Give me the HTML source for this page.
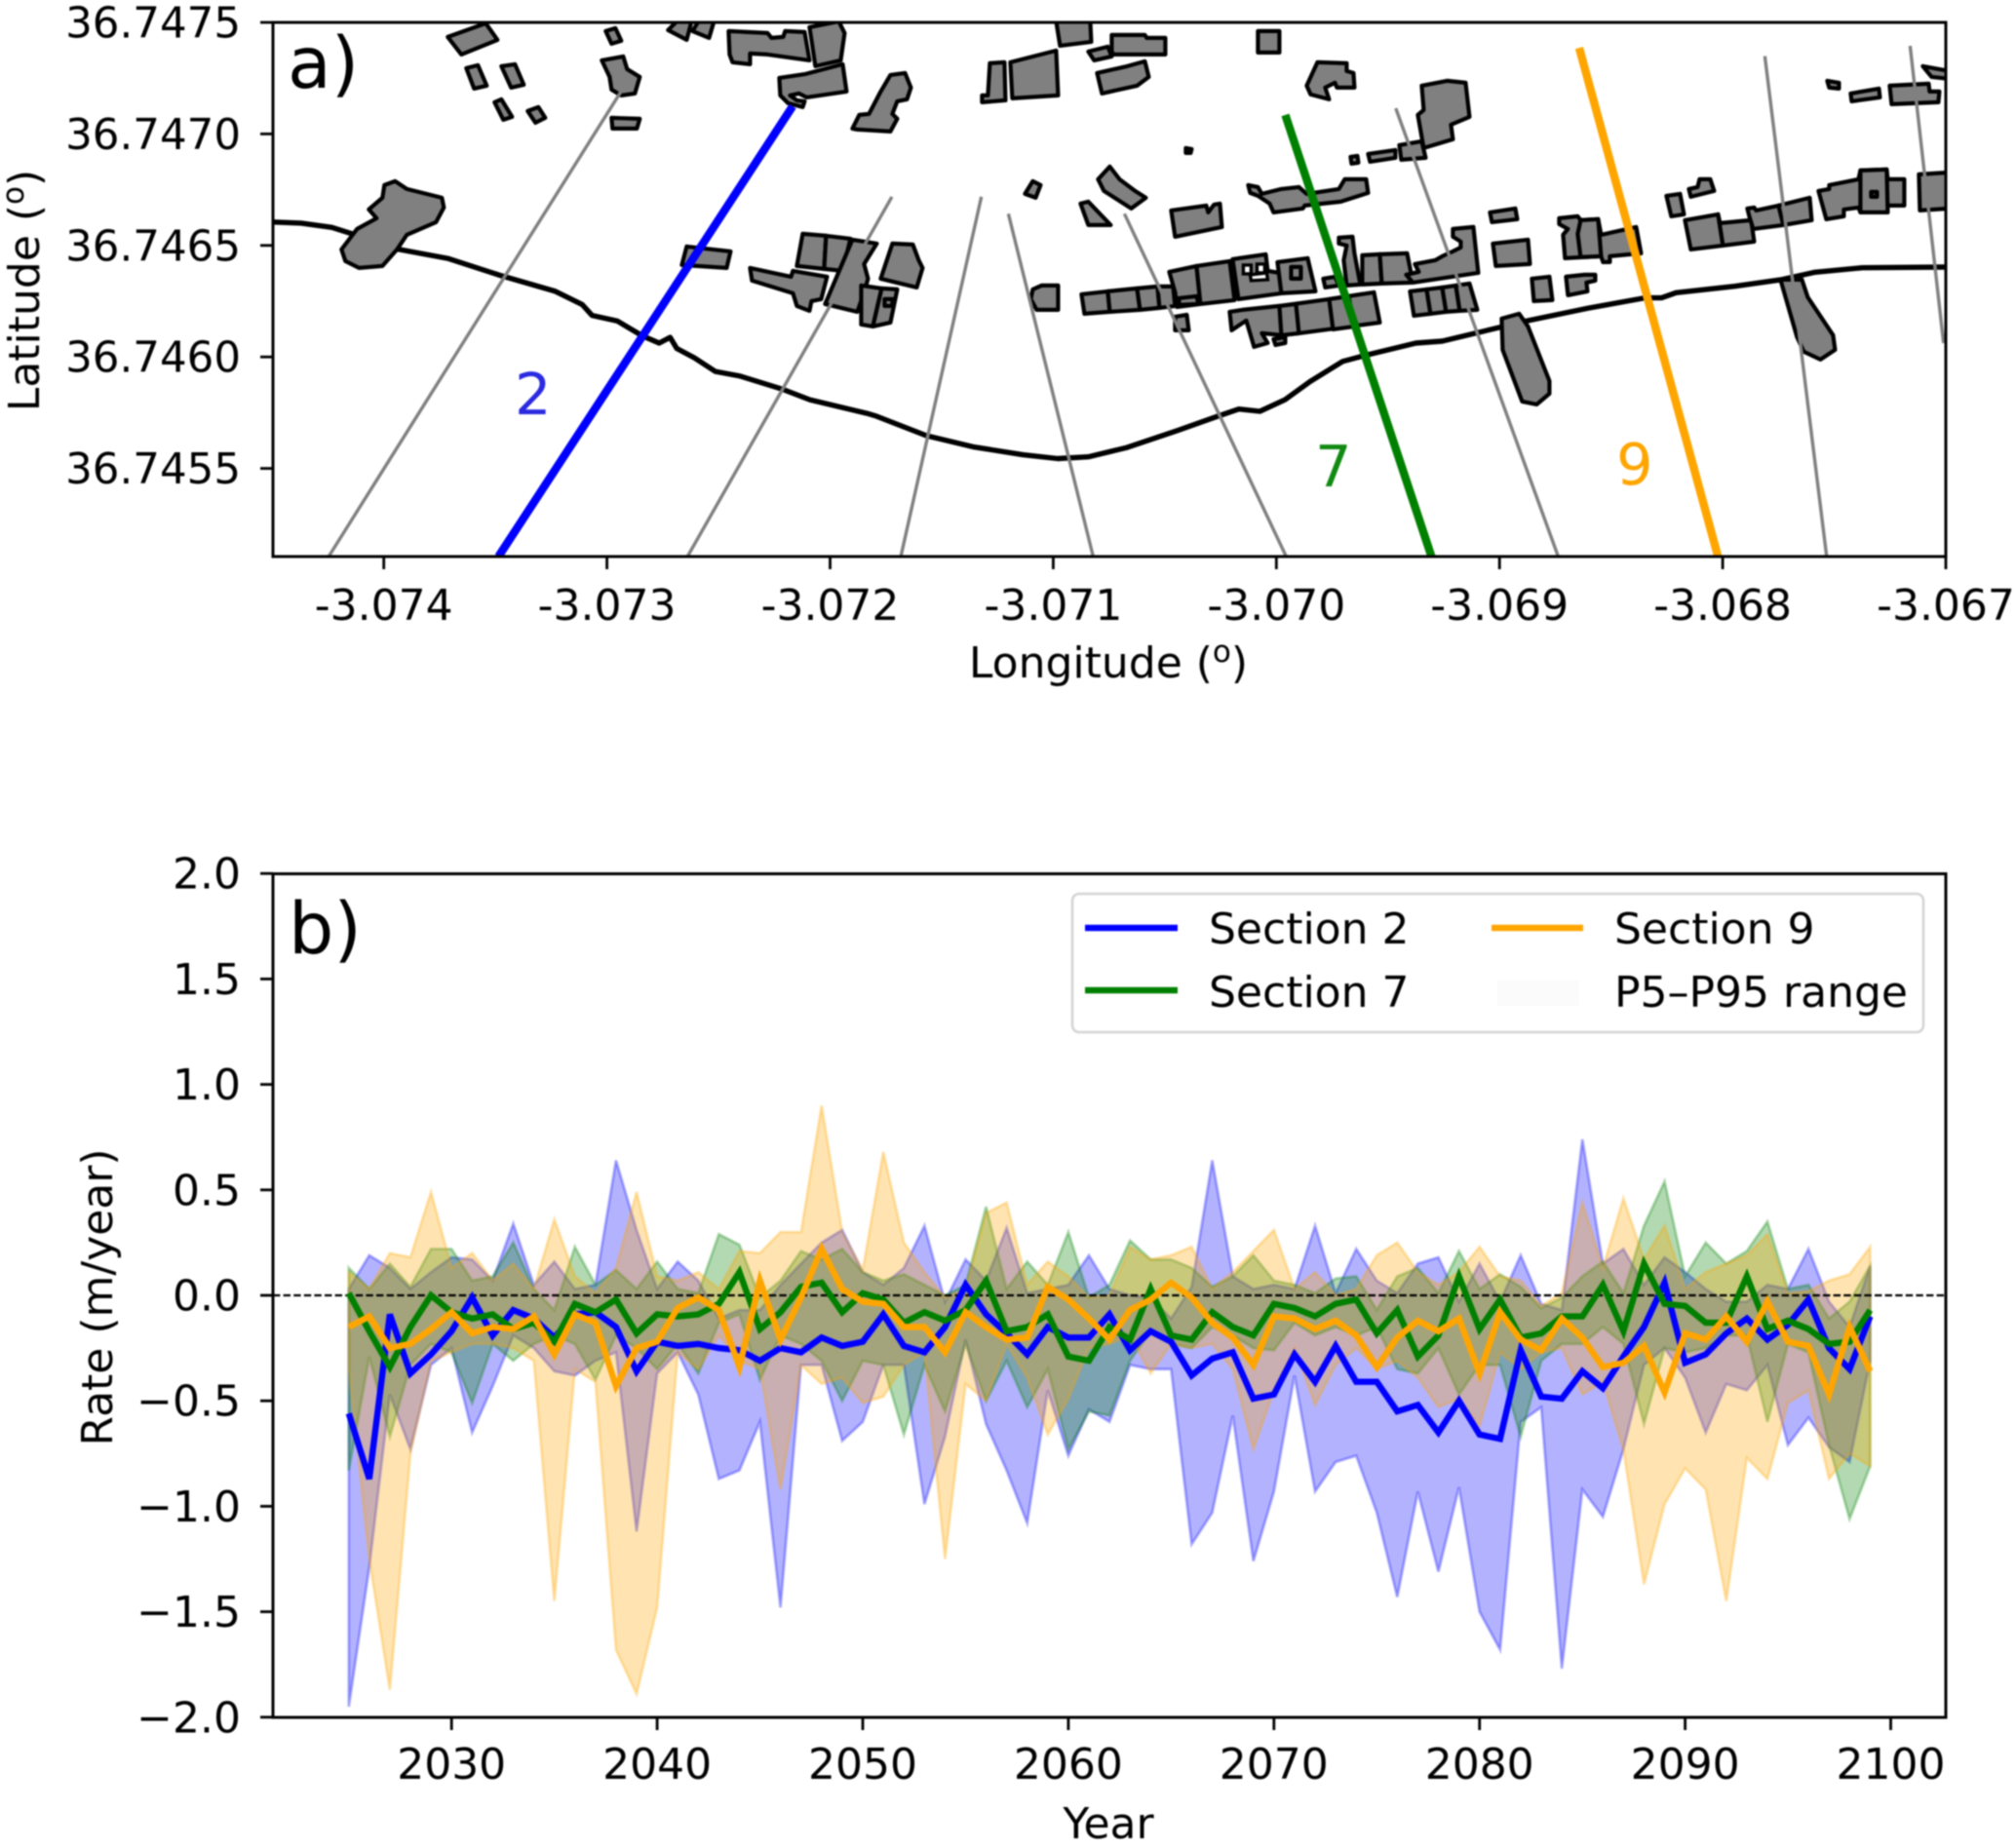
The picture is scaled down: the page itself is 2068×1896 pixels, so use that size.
<!DOCTYPE html>
<html lang="en">
<head>
<meta charset="utf-8">
<title>Shoreline sections and rates</title>
<style>
html,body{margin:0;padding:0;background:#fff;width:2068px;height:1896px;overflow:hidden}
svg{display:block;filter:blur(0.9px)}
text{font-family:"DejaVu Sans","Liberation Sans",sans-serif;fill:#000}
</style>
</head>
<body>
<svg id="fig" xmlns="http://www.w3.org/2000/svg" width="2068" height="1896" viewBox="0 0 2068 1896">
  <defs>
    <clipPath id="clipA"><rect x="280" y="23" width="1716" height="548"/></clipPath>
  </defs>
  <rect x="0" y="0" width="2068" height="1896" fill="#fff"/>

  <g id="panelA">
    <g id="mapMarks" clip-path="url(#clipA)"></g>
    <rect x="280" y="23" width="1716" height="548" fill="none" stroke="#000" stroke-width="3"/>
    <g id="axisA"></g>
    <text x="295" y="90" font-size="73">a)</text>
    <text x="528" y="425" font-size="59" style="fill:#2a2ae0">2</text>
    <text x="1349" y="499" font-size="59" style="fill:#128a12">7</text>
    <text x="1658" y="497" font-size="59" style="fill:#ffa500">9</text>
    <text x="1137" y="695" font-size="44" text-anchor="middle">Longitude (<tspan font-size="31" dy="-16">o</tspan><tspan dy="16">)</tspan></text>
    <text transform="translate(40,298) rotate(-90)" font-size="44" text-anchor="middle">Latitude (<tspan font-size="31" dy="-16">o</tspan><tspan dy="16">)</tspan></text>
  </g>

  <g id="panelB">
    <g id="bands"></g>
    <rect x="280" y="896.5" width="1716" height="865.5" fill="none" stroke="#000" stroke-width="3"/>
    <g id="axisB"></g>
    <text x="296" y="978" font-size="73">b)</text>
    <text x="1137" y="1886" font-size="44" text-anchor="middle">Year</text>
    <text transform="translate(115,1331) rotate(-90)" font-size="44" text-anchor="middle">Rate (m/year)</text>

    <g>
      <rect x="1100" y="917" width="873" height="142" rx="7" fill="#fff" fill-opacity="0.85" stroke="#d4d4d4" stroke-width="2.6"/>
      <line x1="1113" y1="952" x2="1208" y2="952" stroke="#0000ff" stroke-width="6.4"/>
      <text x="1240" y="968" font-size="44">Section 2</text>
      <line x1="1113" y1="1016" x2="1208" y2="1016" stroke="#008000" stroke-width="6.4"/>
      <text x="1240" y="1033" font-size="44">Section 7</text>
      <line x1="1530" y1="952" x2="1624" y2="952" stroke="#ffa500" stroke-width="6.4"/>
      <text x="1656" y="968" font-size="44">Section 9</text>
      <rect x="1536" y="1005" width="84" height="27" fill="#fbfbfb"/>
      <text x="1656" y="1033" font-size="44">P5–P95 range</text>
    </g>
  </g>
</svg>

<script>
/* ---------- panel a: axis values ---------- */
const lonTicks = [-3.074,-3.073,-3.072,-3.071,-3.070,-3.069,-3.068,-3.067];
const lonTickLabels = ["-3.074","-3.073","-3.072","-3.071","-3.070","-3.069","-3.068","-3.067"];
const latTicks = [36.7475,36.7470,36.7465,36.7460,36.7455];
const latTickLabels = ["36.7475","36.7470","36.7465","36.7460","36.7455"];

/* shoreline, degrees */
const coastLon = [-3.074500,-3.074371,-3.074233,-3.074129,-3.073932,-3.073714,-3.073473,-3.073231,-3.073111,-3.073067,-3.072953,-3.072842,-3.072766,-3.072717,-3.072687,-3.072608,-3.072514,-3.072403,-3.072219,-3.072091,-3.071835,-3.071791,-3.071568,-3.071360,-3.071136,-3.070980,-3.070843,-3.070669,-3.070446,-3.070255,-3.070168,-3.070074,-3.069961,-3.069849,-3.069703,-3.069598,-3.069375,-3.069257,-3.068881,-3.068602,-3.068348,-3.068274,-3.068209,-3.067946,-3.067734,-3.067586,-3.067374,-3.067003];
const coastLat = [36.746605,36.746600,36.746581,36.746548,36.746482,36.746442,36.746364,36.746294,36.746235,36.746186,36.746161,36.746095,36.746062,36.746088,36.746038,36.745996,36.745935,36.745914,36.745857,36.745808,36.745747,36.745734,36.745647,36.745597,36.745561,36.745544,36.745552,36.745594,36.745669,36.745737,36.745766,36.745756,36.745808,36.745890,36.745980,36.746008,36.746062,36.746071,36.746161,36.746219,36.746265,36.746265,36.746288,36.746317,36.746347,36.746380,36.746400,36.746403];

/* transects, degrees: start (offshore) and end (landward) */
const transectIds   = [1,2,3,4,5,6,7,8,9,10,11];
const transectLon0  = [-3.074247,-3.073486,-3.072639,-3.071683,-3.070821,-3.069956,-3.069305,-3.068737,-3.068021,-3.067534,-3.06701];
const transectLat0  = [36.745105,36.745105,36.745105,36.745105,36.745105,36.745105,36.745105,36.745105,36.745105,36.745105,36.746062];
const transectLon1  = [-3.072937,-3.072168,-3.071723,-3.071322,-3.071201,-3.070681,-3.06996,-3.069465,-3.068643,-3.067811,-3.06716];
const transectLat1  = [36.74719,36.747124,36.746718,36.746718,36.746642,36.746642,36.747085,36.747115,36.747386,36.747349,36.747395];
const transectColor = {2:"#0000ff",7:"#008000",9:"#ffa500"};

/* building footprints on the local map grid (east, south cells) */
const gridLon0 = -3.075723, gridLat0 = 36.747601, gridLonDeg = 0.000004369, gridLatDeg = 0.000004371;
const buildings = [
[460,38,499,24,511,41,474,56],[479,70,491,67,500,88,487,91],[515,68,529,66,538,87,525,90],
[508,105,515,102,526,120,517,123],[542,114,553,110,560,121,550,126],[622,32,632,29,638,42,628,45],
[618,62,640,58,644,71,657,79,652,96,638,98,628,92,626,79],[628,121,657,122,654,132,629,132],
[686,31,695,22,710,22,705,41],[711,32,717,22,733,22,728,39],
[748,32,788,34,792,39,804,38,806,32,826,33,831,62,788,56,770,55,770,66,752,64,749,56],
[831,28,861,22,867,34,863,62,837,68],
[800,80,827,76,865,66,869,94,828,100,820,96,811,98,818,103,826,104,824,110,809,106,801,98],
[351,256,367,235,387,224,379,215,393,203,395,190,406,186,418,194,454,203,456,213,448,228,418,241,408,256,393,273,369,275,355,268],
[705,253,750,258,746,275,700,272],
[770,275,812,284,814,278,849,284,843,307,833,309,831,319,818,314,814,301,772,288],
[824,240,848,242,846,276,818,273],[848,242,873,245,865,278,846,276],
[847,312,875,246,900,250,887,271,891,286,887,300,880,320],
[916,250,937,251,943,267,947,275,941,295,904,286],
[884,293,905,296,896,335,884,333],[905,296,921,297,914,331,896,335],[908,307,916,307,916,314,908,314],
[1084,22,1119,22,1120,43,1088,47],[1141,36,1175,36,1177,39,1196,39,1196,56,1143,56,1141,53],
[1117,53,1137,48,1141,58,1123,62],[1126,75,1157,68,1175,63,1179,79,1167,88,1131,96],
[1291,32,1313,32,1313,54,1291,54],[1016,65,1031,64,1032,103,1008,105,1008,98,1014,98],
[1037,64,1084,52,1086,98,1039,101],
[914,77,929,75,935,90,931,102,921,104,916,117,921,122,914,135,880,133,875,132,882,118,892,117,904,94],
[1052,199,1060,186,1068,190,1063,203],[1127,184,1139,171,1149,184,1165,196,1176,203,1161,214,1133,196],
[1109,209,1117,207,1140,231,1117,231],[1202,216,1238,211,1240,218,1246,210,1252,209,1254,233,1206,243],
[1217,152,1223,153,1222,157,1217,157],[1386,161,1393,160,1394,167,1387,168],
[1404,158,1432,154,1432,162,1406,166],[1436,149,1459,145,1463,162,1438,164],
[1459,88,1485,83,1504,85,1508,120,1489,128,1491,143,1461,152,1455,118,1461,113],
[1341,88,1352,64,1382,65,1382,73,1389,75,1390,90,1372,90,1370,85,1360,90,1364,102,1345,97],
[1281,190,1291,192,1295,199,1315,194,1333,192,1341,199,1374,194,1380,184,1402,184,1404,198,1376,207,1339,211,1337,214,1307,218,1303,209,1291,201,1283,198],
[1060,297,1069,293,1086,293,1086,318,1064,318,1058,307],
[1110,302,1137,299,1139,320,1113,322],[1137,299,1167,296,1170,318,1139,320],[1167,296,1188,294,1190,316,1170,318],[1188,294,1204,294,1206,314,1190,316],
[1200,279,1228,273,1232,312,1208,315,1206,300],[1228,273,1262,268,1267,308,1232,312],[1210,306,1228,304,1230,312,1210,313],
[1265,266,1299,261,1301,278,1313,280,1315,301,1271,307],
[1311,269,1342,265,1350,299,1315,301],[1325,274,1335,274,1335,286,1325,286],
[1358,286,1370,284,1374,293,1360,295],[1374,244,1388,243,1390,260,1396,292,1382,293,1379,267,1382,252,1374,250],
[1398,262,1416,261,1418,291,1398,292],[1416,261,1444,260,1450,290,1418,291],
[1443,282,1456,279,1452,271,1473,267,1480,263,1491,258,1499,254,1499,248,1491,243,1491,235,1512,233,1517,280,1450,290],
[1262,320,1275,318,1313,314,1364,307,1410,300,1416,331,1333,342,1315,344,1295,342,1301,352,1287,356,1279,329,1264,339],
[1313,314,1330,312,1333,342,1315,344],[1364,307,1384,304,1390,335,1368,338],[1307,348,1319,346,1319,352,1309,354],
[1206,325,1218,323,1220,339,1206,339],
[1447,299,1464,297,1468,322,1451,324],[1464,297,1480,295,1484,320,1468,322],[1480,295,1494,293,1498,319,1484,320],[1494,293,1508,291,1516,318,1498,319],
[1532,250,1568,246,1570,271,1535,273],[1529,218,1555,214,1557,225,1531,228],[1572,286,1590,284,1593,308,1574,309],
[1607,284,1626,282,1637,282,1637,288,1628,290,1629,299,1609,303],
[1600,224,1619,222,1622,226,1640,225,1643,241,1679,233,1684,260,1652,263,1652,269,1645,269,1643,263,1606,265,1604,241,1609,235,1600,230],
[1619,240,1622,226,1640,225,1643,263,1622,264],
[1710,201,1724,199,1728,220,1715,222],[1733,194,1742,192,1744,184,1755,184,1759,196,1735,202],
[1729,226,1763,220,1768,252,1735,256],[1763,220,1765,229,1797,226,1800,248,1768,252],
[1793,214,1800,213,1802,216,1825,211,1830,231,1799,235,1795,222],[1825,211,1857,203,1859,226,1830,231],
[1866,196,1877,194,1877,190,1907,184,1909,175,1936,174,1937,184,1954,184,1954,211,1937,211,1937,218,1909,218,1907,213,1892,215,1892,222,1874,225],
[1909,175,1936,174,1937,218,1909,218],[1920,197,1926,197,1926,202,1920,202],
[1969,179,2000,177,2000,214,1970,216],[1973,68,2000,73,2000,81,1982,79],
[1875,83,1887,85,1887,91,1877,90],[1899,96,1928,91,1929,100,1900,104],
[1939,88,1979,86,1980,94,1990,94,1989,105,1941,107],
[1541,327,1559,322,1568,335,1590,391,1590,404,1577,415,1562,412,1542,359],
[1827,287,1849,287,1855,305,1881,344,1883,359,1868,369,1851,361,1844,346]
];
/* courtyards inside footprints, same grid */
const courtyards = [
[1276,272,1284,272,1284,281,1276,281],[1290,271,1298,271,1298,280,1290,280],[1283,282,1300,280,1301,287,1284,288]
];

/* ---------- panel b: values (m/year) ---------- */
const years = [2025,2026,2027,2028,2029,2030,2031,2032,2033,2034,2035,2036,2037,2038,2039,2040,2041,2042,2043,2044,2045,2046,2047,2048,2049,2050,2051,2052,2053,2054,2055,2056,2057,2058,2059,2060,2061,2062,2063,2064,2065,2066,2067,2068,2069,2070,2071,2072,2073,2074,2075,2076,2077,2078,2079,2080,2081,2082,2083,2084,2085,2086,2087,2088,2089,2090,2091,2092,2093,2094,2095,2096,2097,2098,2099];
const yearTicks = [2030,2040,2050,2060,2070,2080,2090,2100];
const rateTicks = [2,1.5,1,0.5,0,-0.5,-1,-1.5,-2];
const rateTickLabels = ["2.0","1.5","1.0","0.5","0.0","−0.5","−1.0","−1.5","−2.0"];

const section2Mean = [-0.56,-0.87,-0.09,-0.37,-0.28,-0.17,-0.01,-0.19,-0.07,-0.11,
-0.20,-0.09,-0.08,-0.15,-0.36,-0.22,-0.24,-0.23,-0.25,-0.26,
-0.31,-0.25,-0.27,-0.20,-0.24,-0.22,-0.09,-0.24,-0.27,-0.15,
0.05,-0.09,-0.18,-0.28,-0.15,-0.20,-0.20,-0.09,-0.26,-0.17,
-0.22,-0.38,-0.30,-0.27,-0.49,-0.47,-0.28,-0.41,-0.24,-0.41,
-0.41,-0.55,-0.52,-0.65,-0.50,-0.66,-0.68,-0.26,-0.48,-0.49,
-0.36,-0.44,-0.29,-0.15,0.06,-0.32,-0.28,-0.18,-0.11,-0.21,
-0.14,-0.02,-0.25,-0.35,-0.10];
const section2P95 = [0.03,0.19,0.13,0.03,0.11,0.18,0.17,0.07,0.34,0.05,
0.16,0.03,0.05,0.64,0.31,0.03,0.16,0.07,-0.11,-0.07,
-0.07,0.05,0.15,0.25,0.31,0.11,0.05,0.13,0.33,-0.03,
0.17,0.07,0.32,0.01,0.03,0.05,0.19,0.03,0.00,-0.01,
-0.11,0.04,0.64,0.09,0.03,0.05,0.03,0.33,0.01,0.22,
0.07,0.01,0.15,0.18,-0.03,0.15,-0.03,0.19,-0.04,-0.07,
0.74,0.15,0.22,0.05,0.18,0.11,0.03,-0.03,-0.03,0.05,
0.03,0.22,-0.03,-0.15,0.14];
const section2P5 = [-1.95,-1.29,-0.47,-0.73,-0.33,-0.25,-0.65,-0.43,-0.19,-0.25,
-0.36,-0.38,-0.31,-0.27,-1.12,-0.37,-0.27,-0.47,-0.87,-0.83,
-0.60,-1.48,-0.33,-0.33,-0.69,-0.60,-0.33,-0.33,-0.99,-0.67,
-0.21,-0.61,-0.83,-1.08,-0.45,-0.76,-0.54,-0.60,-0.33,-0.35,
-0.35,-1.18,-1.03,-0.57,-1.26,-0.93,-0.38,-0.93,-0.79,-0.76,
-1.03,-1.43,-0.93,-1.31,-0.91,-1.50,-1.68,-0.60,-0.53,-1.77,
-0.92,-1.05,-0.73,-0.33,-0.25,-0.39,-0.65,-0.42,-0.45,-0.33,
-0.71,-0.58,-0.72,-0.79,-0.31];

const section7Mean = [0.01,-0.17,-0.34,-0.15,0.00,-0.08,-0.11,-0.09,-0.16,-0.13,
-0.22,-0.04,-0.08,-0.02,-0.18,-0.09,-0.10,-0.09,-0.04,0.11,
-0.16,-0.08,0.04,0.06,-0.08,0.01,-0.02,-0.13,-0.08,-0.12,
-0.07,0.07,-0.17,-0.15,-0.09,-0.29,-0.31,-0.15,-0.21,0.03,
-0.19,-0.21,-0.08,-0.15,-0.19,-0.04,-0.06,-0.10,-0.04,-0.02,
-0.18,-0.07,-0.29,-0.19,0.09,-0.16,-0.02,-0.20,-0.18,-0.10,
-0.10,0.05,-0.17,0.15,-0.04,-0.05,-0.13,-0.13,0.09,-0.16,
-0.12,-0.16,-0.23,-0.22,-0.07];
const section7P95 = [0.13,0.03,0.15,0.04,0.22,0.22,0.07,0.09,0.25,0.03,
-0.07,0.23,0.05,0.12,0.03,0.16,0.03,0.01,0.29,0.24,
-0.01,0.07,0.21,0.17,0.22,0.11,0.07,0.10,0.05,0.00,
0.05,0.42,0.03,0.16,0.05,0.30,-0.01,0.05,0.26,0.17,
0.17,0.13,0.04,0.09,0.19,0.07,0.05,0.01,0.08,0.09,
-0.07,0.09,0.13,0.01,0.21,0.03,0.10,0.04,-0.06,-0.01,
0.09,0.16,0.01,0.33,0.54,0.09,0.25,0.15,0.21,0.35,
0.03,0.05,-0.11,-0.03,0.14];
const section7P5 = [-0.83,-0.29,-0.67,-0.33,-0.23,-0.27,-0.51,-0.23,-0.31,-0.23,
-0.19,-0.23,-0.40,-0.19,-0.25,-0.35,-0.23,-0.37,-0.13,-0.09,
-0.40,-0.19,-0.23,-0.31,-0.50,-0.31,-0.33,-0.66,-0.33,-0.55,
-0.23,-0.50,-0.31,-0.53,-0.35,-0.73,-0.55,-0.57,-0.31,-0.17,
-0.23,-0.25,-0.15,-0.19,-0.25,-0.26,-0.13,-0.19,-0.15,-0.19,
-0.15,-0.35,-0.37,-0.25,-0.47,-0.33,-0.33,-0.67,-0.31,-0.23,
-0.23,-0.15,-0.23,-0.61,-0.25,-0.27,-0.25,-0.19,-0.19,-0.60,
-0.23,-0.27,-0.71,-1.06,-0.81];

const section9Mean = [-0.15,-0.10,-0.25,-0.23,-0.16,-0.08,-0.18,-0.15,-0.16,-0.10,
-0.28,-0.09,-0.13,-0.43,-0.25,-0.22,-0.06,-0.01,-0.07,-0.34,
0.07,-0.21,-0.01,0.22,0.03,-0.03,-0.04,-0.15,-0.15,-0.27,
-0.08,-0.15,-0.21,-0.20,0.04,-0.02,-0.11,-0.21,-0.07,-0.02,
0.06,-0.01,-0.13,-0.20,-0.33,-0.10,-0.11,-0.16,-0.12,-0.19,
-0.34,-0.20,-0.12,-0.17,-0.11,-0.37,-0.08,-0.21,-0.26,-0.11,
-0.20,-0.34,-0.32,-0.24,-0.46,-0.18,-0.21,-0.10,-0.22,-0.03,
-0.22,-0.24,-0.47,-0.15,-0.36];
const section9P95 = [0.11,0.03,0.20,0.18,0.49,0.13,0.20,0.07,0.15,0.03,
0.36,0.09,0.01,0.13,0.49,0.09,0.07,0.11,0.03,0.21,
0.20,0.30,0.30,0.90,0.30,0.12,0.68,0.25,0.11,-0.01,
0.03,0.39,0.44,0.05,0.16,0.09,-0.01,0.00,0.23,0.17,
0.19,0.23,0.03,0.11,0.21,0.31,0.03,0.11,0.00,0.03,
0.19,0.25,0.11,0.05,0.11,0.23,0.09,0.07,-0.05,0.01,
0.44,0.13,0.46,0.17,0.33,0.03,0.11,0.15,0.19,0.29,
0.01,0.02,0.07,0.10,0.23];
const section9P5 = [-0.35,-1.25,-1.87,-0.75,-0.31,-0.27,-0.23,-0.23,-0.25,-0.31,
-1.45,-0.35,-0.41,-1.68,-1.89,-1.48,-0.27,-0.35,-0.19,-0.31,
-0.35,-0.92,-0.33,-0.42,-0.39,-0.51,-0.48,-0.33,-0.27,-1.25,
-0.42,-0.50,-0.23,-0.39,-0.66,-0.49,-0.25,-0.23,-0.19,-0.37,
-0.23,-0.25,-0.23,-0.35,-0.73,-0.45,-0.25,-0.52,-0.33,-0.25,
-0.35,-0.31,-0.39,-0.53,-0.49,-0.62,-0.27,-0.35,-0.27,-0.25,
-0.47,-0.41,-0.73,-1.37,-0.99,-0.82,-0.92,-1.45,-0.77,-0.87,
-0.51,-0.45,-0.87,-0.75,-0.81];

/* ---------- axis functions ---------- */
const NS = "http://www.w3.org/2000/svg";
function lonToX(lon){ return 1996 - (-3.067 - lon) * 228900; }
function latToY(lat){ return 23 + (36.7475 - lat) * 228800; }
function yearToX(yr){ return 463.2 + (yr - 2030) * 21.09; }
function rateToY(v){ return 1329 - v * 216.4; }
function gridToX(e){ return lonToX(gridLon0 + e * gridLonDeg); }
function gridToY(s){ return latToY(gridLat0 - s * gridLatDeg); }
function make(tag, parent){
  const el = document.createElementNS(NS, tag);
  parent.appendChild(el);
  return el;
}
function tickLine(parent, x1, y1, x2, y2){
  const t = make("line", parent);
  t.setAttribute("x1", x1); t.setAttribute("y1", y1);
  t.setAttribute("x2", x2); t.setAttribute("y2", y2);
  t.setAttribute("stroke", "#000");
  t.setAttribute("stroke-width", "2.8");
  return t;
}
function tickText(parent, str, x, y, anchor, size){
  const t = make("text", parent);
  t.setAttribute("x", x); t.setAttribute("y", y);
  t.setAttribute("text-anchor", anchor);
  t.setAttribute("font-size", size);
  t.textContent = str;
  return t;
}

/* ---------- panel a marks ---------- */
const mapMarks = document.getElementById("mapMarks");
const coast = make("polyline", mapMarks);


coast.setAttribute("points", coastLon.map(function(lon, i){ return lonToX(lon).toFixed(1) + "," + latToY(coastLat[i]).toFixed(1); }).join(" "));
coast.setAttribute("fill", "none");
coast.setAttribute("stroke", "#000");
coast.setAttribute("stroke-width", "5.4");
coast.setAttribute("stroke-linejoin", "round");

function gridPoints(b){
  const pts = [];
  for (let i = 0; i < b.length; i += 2) pts.push(gridToX(b[i]).toFixed(1) + "," + gridToY(b[i + 1]).toFixed(1));
  return pts.join(" ");
}
buildings.forEach(function(b){
  const p = make("polygon", mapMarks);
  
  
  p.setAttribute("points", gridPoints(b));
  p.setAttribute("fill", "#808080");
  p.setAttribute("stroke", "#000");
  p.setAttribute("stroke-width", "4.2");
  p.setAttribute("stroke-linejoin", "round");
});
courtyards.forEach(function(b){
  const p = make("polygon", mapMarks);
  
  
  p.setAttribute("points", gridPoints(b));
  p.setAttribute("fill", "#fff");
  p.setAttribute("stroke", "#000");
  p.setAttribute("stroke-width", "3.4");
});

transectIds.forEach(function(id, i){
  const t = make("line", mapMarks);
  
  
  t.setAttribute("x1", lonToX(transectLon0[i]));
  t.setAttribute("y1", latToY(transectLat0[i]));
  t.setAttribute("x2", lonToX(transectLon1[i]));
  t.setAttribute("y2", latToY(transectLat1[i]));
  t.setAttribute("stroke", transectColor[id] || "#808080");
  t.setAttribute("stroke-width", transectColor[id] ? "8.4" : "3.4");
});

const axisA = document.getElementById("axisA");
lonTicks.forEach(function(v, i){
  const x = lonToX(v);
  const t = tickLine(axisA, x, 571, x, 584);
  
  
  const l = tickText(axisA, lonTickLabels[i], x, 636, "middle", 44);
  
  
});
latTicks.forEach(function(v, i){
  const y = latToY(v);
  const t = tickLine(axisA, 267, y, 280, y);
  
  
  const l = tickText(axisA, latTickLabels[i], 247, y + 15.5, "end", 43.5);
  
  
});

/* ---------- panel b marks ---------- */
const bandsG = document.getElementById("bands");
function drawSection(key, color, upper, lower){
  const area = make("polygon", bandsG);
  
  
  const top = years.map(function(yr, i){ return yearToX(yr).toFixed(1) + "," + rateToY(upper[i]).toFixed(1); });
  const bot = years.map(function(yr, i){ return yearToX(yr).toFixed(1) + "," + rateToY(lower[i]).toFixed(1); }).reverse();
  area.setAttribute("points", top.concat(bot).join(" "));
  area.setAttribute("fill", color);
  area.setAttribute("fill-opacity", "0.3");
  area.setAttribute("stroke", color);
  area.setAttribute("stroke-opacity", "0.3");
  area.setAttribute("stroke-width", "2.8");
}
function drawMean(key, color, mean){
  const line = make("polyline", bandsG);
  
  
  line.setAttribute("points", years.map(function(yr, i){ return yearToX(yr).toFixed(1) + "," + rateToY(mean[i]).toFixed(1); }).join(" "));
  line.setAttribute("fill", "none");
  line.setAttribute("stroke", color);
  line.setAttribute("stroke-width", "6.4");
  line.setAttribute("stroke-linejoin", "miter");
}
drawSection("section-2", "#0000ff", section2P95, section2P5);
drawSection("section-7", "#008000", section7P95, section7P5);
drawSection("section-9", "#ffa500", section9P95, section9P5);

const zero = make("line", bandsG);


zero.setAttribute("x1", 280);
zero.setAttribute("x2", 1996);
zero.setAttribute("y1", rateToY(0));
zero.setAttribute("y2", rateToY(0));
zero.setAttribute("stroke", "#000");
zero.setAttribute("stroke-width", "2.2");
zero.setAttribute("stroke-dasharray", "7.4 3.2");

drawMean("section-2", "#0000ff", section2Mean);
drawMean("section-7", "#008000", section7Mean);
drawMean("section-9", "#ffa500", section9Mean);

const axisB = document.getElementById("axisB");
yearTicks.forEach(function(v){
  const x = yearToX(v);
  const t = tickLine(axisB, x, 1762, x, 1775);
  
  
  const l = tickText(axisB, String(v), x, 1825, "middle", 44);
  
  
});
rateTicks.forEach(function(v, i){
  const y = rateToY(v);
  const t = tickLine(axisB, 267, y, 280, y);
  
  
  const l = tickText(axisB, rateTickLabels[i], 247, y + 15.5, "end", 44);
  
  
});
</script>
</body>
</html>
